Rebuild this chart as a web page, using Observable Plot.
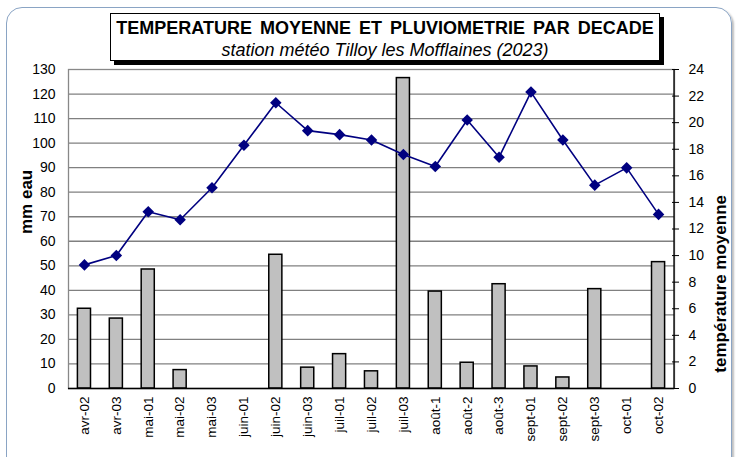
<!DOCTYPE html>
<html>
<head>
<meta charset="utf-8">
<script src="https://cdn.jsdelivr.net/npm/d3@7"></script>
<script src="https://cdn.jsdelivr.net/npm/@observablehq/plot@0.6"></script>
<style>
  html, body { margin: 0; padding: 0; background: #fff; }
  #wrap { position: relative; width: 739px; height: 457px; overflow: hidden; font-family: "Liberation Sans", Arial, sans-serif; }
  #frame { position: absolute; left: 6px; top: 7px; width: 724px; height: 470px; border: 1.5px solid #8aa4c4; border-radius: 16px; box-shadow: 2px 2px 2px rgba(0,0,0,0.25); pointer-events: none; }
  #titlebox { position: absolute; left: 110px; top: 13px; width: 548px; height: 46px; border: 1.5px solid #000; background: #fff; box-shadow: 4px 4px 0 #000; text-align: center; }
  #title { font-weight: bold; font-size: 18px; margin-top: 4px; word-spacing: 3px; color: #000; }
  #subtitle { font-style: italic; font-size: 18px; margin-top: 1px; color: #000; }
  #chart { position: absolute; left: 0; top: 0; }
</style>
</head>
<body>
<div id="wrap">
  <div id="chart"></div>
  <div id="frame"></div>
  <div id="titlebox">
    <div id="title">TEMPERATURE  MOYENNE  ET PLUVIOMETRIE  PAR  DECADE</div>
    <div id="subtitle">station météo Tilloy les Mofflaines (2023)</div>
  </div>
</div>
<script>
const categories = ["avr-02","avr-03","mai-01","mai-02","mai-03","juin-01","juin-02","juin-03","juil-01","juil-02","juil-03","août-1","août-2","août-3","sept-01","sept-02","sept-03","oct-01","oct-02"];
const rain = [32.5, 28.5, 48.5, 7.5, 0, 0, 54.5, 8.5, 14, 7, 126.5, 39.5, 10.5, 42.5, 9, 4.5, 40.5, 0, 51.5];
const temp = [9.3, 10.0, 13.3, 12.7, 15.1, 18.3, 21.5, 19.4, 19.1, 18.7, 17.6, 16.7, 20.2, 17.4, 22.3, 18.7, 15.3, 16.6, 13.1];
const rainTicks = [0,10,20,30,40,50,60,70,80,90,100,110,120,130];
const gridTicks = [10,20,30,40,50,60,70,80,90,100,110,120];
const tempTicks = [0,2,4,6,8,10,12,14,16,18,20,22,24];
const rainMax = 130, tempMax = 24;
const K = rainMax / tempMax;

const data = categories.map((c, i) => ({cat: c, rain: rain[i], temp: temp[i]}));

const rightLine = (index, scales, values, dims) => {
  const x = dims.width - dims.marginRight;
  const g = d3.create("svg:line")
    .attr("x1", x).attr("x2", x)
    .attr("y1", dims.marginTop).attr("y2", dims.height - dims.marginBottom)
    .attr("stroke", "#000").attr("stroke-width", 1.3);
  return g.node();
};

const chart = Plot.plot({
  width: 739,
  height: 457,
  marginLeft: 68,
  marginRight: 65,
  marginTop: 69,
  marginBottom: 69,
  style: {fontFamily: "Liberation Sans, Arial, sans-serif", fontSize: "14px", color: "#000", background: "transparent"},
  x: {domain: categories, padding: 0, round: false, label: null},
  y: {domain: [0, rainMax], label: null},
  marks: [
    Plot.gridY(gridTicks, {stroke: "#808080", strokeOpacity: 1, strokeWidth: 1.3}),
    Plot.frame({stroke: "#888", strokeWidth: 1.3}),
    Plot.barY(data.filter(d => d.rain > 0), {x: "cat", y: "rain", insetLeft: 9.4, insetRight: 9.4, fill: "#c0c0c0", stroke: "#000", strokeWidth: 1.5}),
    Plot.ruleY([0], {stroke: "#000", strokeWidth: 1.5}),
    rightLine,
    Plot.line(data, {x: "cat", y: d => d.temp * K, stroke: "#000080", strokeWidth: 1.6}),
    Plot.dot(data, {x: "cat", y: d => d.temp * K, symbol: "diamond2", r: 5.2, fill: "#000080", stroke: "none"}),
    Plot.axisY({anchor: "left", ticks: rainTicks, tickSize: 0, tickPadding: 13, fontSize: 14, label: null}),
    Plot.axisY({anchor: "right", ticks: tempTicks.map(t => t * K), tickFormat: v => String(Math.round(v / K)), tickSize: 7, dx: -3, tickPadding: 10, fontSize: 14, label: null, stroke: "#000"}),
    Plot.axisX({anchor: "bottom", tickRotate: -90, tickSize: 0, tickPadding: 8, fontSize: 13.5, label: null}),
    Plot.text(["mm eau"], {frameAnchor: "left", dx: -42, dy: 5, rotate: -90, fontSize: 17, fontWeight: "bold", fill: "#000"}),
    Plot.text(["température moyenne"], {frameAnchor: "right", dx: 46, dy: -34, rotate: -90, fontSize: 17, fontWeight: "bold", fill: "#000"})
  ]
});
document.getElementById("chart").appendChild(chart);
</script>
</body>
</html>
